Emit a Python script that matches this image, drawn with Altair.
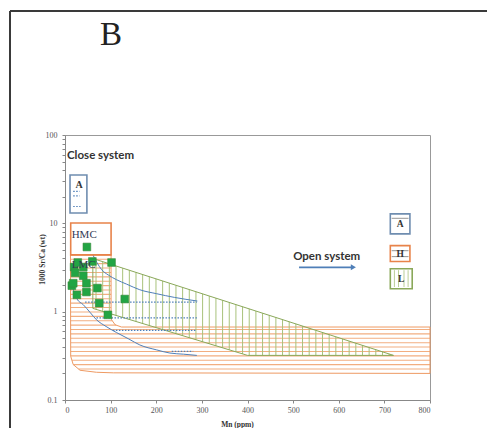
import altair as alt
import numpy as np
import pandas as pd

# ---------------- data ----------------
# samples (green squares): Mn (ppm) vs 1000 Sr/Ca
sample_mn = [48, 60, 102, 20, 40, 28, 22, 40, 15, 18, 47, 71, 26, 47, 75, 131, 94]
sample_sr = [5.4, 3.7, 3.6, 3.2, 3.2, 3.6, 2.75, 2.55, 1.97, 2.1, 2.1, 1.85, 1.55, 1.67, 1.25, 1.39, 0.92]

# blue diagenetic curves
curve1_mn = [61, 70, 80, 95, 113, 135, 164, 200, 240, 290]
curve1_sr = [4.4, 3.6, 3.0, 2.6, 2.3, 2.05, 1.77, 1.6, 1.45, 1.32]
curve2_mn = [15, 20, 26, 40, 55, 69, 90, 113, 140, 164, 200, 230, 260, 289]
curve2_sr = [2.1, 1.65, 1.4, 1.2, 0.98, 0.81, 0.68, 0.58, 0.49, 0.42, 0.37, 0.34, 0.33, 0.32]

# blue dotted levels
dot_sr = [1.28, 0.85, 0.615, 0.355, 23, 20.5, 15.5]
dot_start = [44, 69, 105, 234, 18, 18, 18]
dot_end = [289, 289, 289, 281, 32, 32, 34]

# orange field (LMC)
lmc_mn = [12, 101, 101, 102, 110, 124, 800, 800, 106, 69, 33, 18, 12.5]
lmc_sr = [4.4, 4.4, 0.97, 0.81, 0.71, 0.67, 0.67, 0.2, 0.203, 0.206, 0.217, 0.252, 0.313]

# green field
ara_mn = [61, 720, 400, 61]
ara_sr = [4.0, 0.32, 0.32, 1.09]

# boxes
box_name = ["A", "HMC"]
box_x1 = [11, 12.5]
box_x2 = [48, 101]
box_y1 = [13.1, 4.4]
box_y2 = [35.3, 10.1]

# legend keys
key_label = ["A", "H", "L"]
key_x1 = [713, 713, 713]
key_x2 = [756, 756, 761]
key_y1 = [7.6, 3.7, 1.82]
key_y2 = [12.8, 5.6, 3.06]

ORANGE = "#ee9a63"
ORANGE_H = "#f2ae80"
GREEN = "#8aa85a"
GREEN_H = "#a9c27b"
BLUE = "#4f7fb8"
BOXBLUE = "#6f8db0"

xs = alt.Scale(domain=[0, 800], nice=False, zero=False)
ys = alt.Scale(type="log", domain=[0.1, 100], nice=False)

ytick_vals = [0.1, 0.2, 0.3, 0.4, 0.5, 0.6, 0.7, 0.8, 0.9,
              1, 2, 3, 4, 5, 6, 7, 8, 9,
              10, 20, 30, 40, 50, 60, 70, 80, 90, 100]
is_major = "indexof([0.1, 1, 10, 100], datum.value) >= 0"

xaxis = alt.Axis(values=list(range(0, 801, 100)), title="Mn (ppm)", grid=False,
                 labelFont="Liberation Serif", labelFontSize=8, labelColor="#555",
                 tickColor="#888", domainColor="#888", tickSize=3, labelPadding=3,
                 titleFont="Liberation Serif", titleFontSize=7.5, titleFontWeight="bold",
                 titleColor="#333", titleX=172, titleY=24, titleBaseline="middle")
yaxis = alt.Axis(values=ytick_vals, title="1000 Sr/Ca (wt)", grid=False, format="~g",
                 labelExpr=is_major + " ? datum.label : ''",
                 labelFont="Liberation Serif", labelFontSize=8, labelColor="#555",
                 tickColor="#888", domainColor="#888", tickSize=3, labelPadding=5,
                 titleFont="Liberation Serif", titleFontSize=7.5, titleFontWeight="bold",
                 titleColor="#333", titleX=-23, titleY=124, titleAngle=-90,
                 titleAlign="center", titleBaseline="middle")


def X(f="x"):
    return alt.X(f, type="quantitative", scale=xs, axis=xaxis)


def Y(f="y"):
    return alt.Y(f, type="quantitative", scale=ys, axis=yaxis)


def scan(pa, pb, levels):
    segs = []
    n = len(pa)
    for lv in levels:
        cut = []
        for i in range(n):
            a1, b1 = pa[i], pb[i]
            a2, b2 = pa[(i + 1) % n], pb[(i + 1) % n]
            if (a1 <= lv < a2) or (a2 <= lv < a1):
                t = (lv - a1) / (a2 - a1)
                cut.append(b1 + t * (b2 - b1))
        cut.sort()
        for k in range(0, len(cut) - 1, 2):
            segs.append((lv, cut[k], cut[k + 1]))
    return segs


# orange horizontal hatching
lly = np.log10(lmc_sr)
step = 0.0497
lv = np.arange(np.log10(0.2) + step, np.log10(4.4), step)
oh = scan(list(lly), lmc_mn, lv)
orange_hatch = pd.DataFrame({"y": [10 ** s[0] for s in oh], "x": [s[1] for s in oh],
                             "x2": [s[2] for s in oh]})
orange_hatch["y2"] = orange_hatch["y"]

# green vertical hatching
gly = list(np.log10(ara_sr))
gv = np.arange(61 + 7, 720, 14.6)
gh = scan(ara_mn, gly, gv)
green_hatch = pd.DataFrame({"x": [s[0] for s in gh], "y": [10 ** s[1] for s in gh],
                            "y2": [10 ** s[2] for s in gh]})
green_hatch["x2"] = green_hatch["x"]


def seg_layer(df, color, width=1, dash=None, opacity=1):
    kw = dict(color=color, strokeWidth=width, opacity=opacity)
    if dash:
        kw["strokeDash"] = dash
    return alt.Chart(df).mark_rule(**kw).encode(x=X("x"), x2="x2", y=Y("y"), y2="y2")


def outline(mn, sr, color, width=1):
    df = pd.DataFrame({"x": list(mn) + [mn[0]], "y": list(sr) + [sr[0]],
                       "o": list(range(len(mn) + 1))})
    return alt.Chart(df).mark_line(color=color, strokeWidth=width).encode(
        x=X("x"), y=Y("y"), order="o:Q")


def curve(mn, sr, color, width=1):
    df = pd.DataFrame({"x": mn, "y": sr, "o": list(range(len(mn)))})
    return alt.Chart(df).mark_line(color=color, strokeWidth=width, interpolate="monotone").encode(
        x=X("x"), y=Y("y"), order="o:Q")


layers = []
layers.append(seg_layer(orange_hatch, ORANGE_H, 1.1))
layers.append(outline(lmc_mn, lmc_sr, ORANGE, 1))
layers.append(seg_layer(green_hatch, GREEN_H, 1))
layers.append(outline(ara_mn, ara_sr, GREEN, 1))

# dotted blue lines
dots = pd.DataFrame({"y": dot_sr, "y2": dot_sr, "x": dot_start, "x2": dot_end})
layers.append(seg_layer(dots, BLUE, 1.2, dash=[1.5, 1.5]))

# curves
layers.append(curve(curve1_mn, curve1_sr, BLUE, 1))
layers.append(curve(curve2_mn, curve2_sr, BLUE, 1))

# boxes
boxes = pd.DataFrame({"n": box_name, "x": box_x1, "x2": box_x2, "y": box_y1, "y2": box_y2,
                      "c": [BOXBLUE, "#e8834a"]})
layers.append(alt.Chart(boxes).mark_rect(fillOpacity=0, strokeWidth=1.6).encode(
    x=X("x"), x2="x2", y=Y("y"), y2="y2",
    stroke=alt.Color("c:N", scale=None)))

# samples
pts = pd.DataFrame({"x": sample_mn, "y": sample_sr})
layers.append(alt.Chart(pts).mark_square(size=60, color="#22a544", opacity=1,
                                          stroke="#3c8c3c", strokeWidth=0.6).encode(
    x=X("x"), y=Y("y")))

# labels inside plot
txt = pd.DataFrame({"x": [4.4, 14.6, 14.6], "y": [53.6, 6.86, 3.14],
                    "t": ["Close system", "HMC", "LMC"]})
layers.append(alt.Chart(txt.iloc[[0]]).mark_text(align="left", baseline="alphabetic",
                                                 font="Lato", fontWeight="bold", fontSize=11.5,
                                                 color="#333").encode(
    x=X("x"), y=Y("y"), text="t:N"))
layers.append(alt.Chart(txt.iloc[[1, 2]]).mark_text(align="left", baseline="alphabetic",
                                                    font="Liberation Serif", fontSize=11,
                                                    color="#333a55").encode(
    x=X("x"), y=Y("y"), text="t:N"))
atxt = pd.DataFrame({"x": [31], "y": [27.5], "t": ["A"]})
layers.append(alt.Chart(atxt).mark_text(font="Liberation Serif", fontWeight="bold",
                                        fontSize=10, color="#333").encode(
    x=X("x"), y=Y("y"), text="t:N"))

# open system
otxt = pd.DataFrame({"x": [500], "y": [3.87], "t": ["Open system"]})
layers.append(alt.Chart(otxt).mark_text(align="left", baseline="alphabetic", font="Lato",
                                        fontWeight="bold", fontSize=11.5, color="#333").encode(
    x=X("x"), y=Y("y"), text="t:N"))
arrow = pd.DataFrame({"x": [513], "x2": [630], "y": [3.18], "y2": [3.18]})
layers.append(seg_layer(arrow, BLUE, 1.8))
layers.append(alt.Chart(pd.DataFrame({"x": [632], "y": [3.18]})).mark_point(
    shape="triangle-right", size=35, filled=True, color=BLUE, opacity=1).encode(x=X("x"), y=Y("y")))

# legend keys
keys = pd.DataFrame({"t": key_label, "x": key_x1, "x2": key_x2, "y": key_y1, "y2": key_y2,
                     "c": [BOXBLUE, "#e8834a", GREEN]})
keys["xm"] = [(a + b) / 2 for a, b in zip(key_x1, key_x2)]
keys["ym"] = [np.sqrt(a * b) for a, b in zip(key_y1, key_y2)]
layers.append(alt.Chart(keys).mark_rect(fill="white", strokeWidth=1.6).encode(
    x=X("x"), x2="x2", y=Y("y"), y2="y2", stroke=alt.Color("c:N", scale=None)))
kh = pd.DataFrame({"x": [716, 716, 716], "x2": [753, 753, 753],
                   "y": [11.4, 4.9, 4.2], "y2": [11.4, 4.9, 4.2]})
layers.append(alt.Chart(kh).mark_rule(color="#7a7a7a", strokeWidth=0.8).encode(
    x=X("x"), x2="x2", y=Y("y"), y2="y2"))
kv = pd.DataFrame({"x": [722, 731, 743, 752], "x2": [722, 731, 743, 752],
                   "y": [1.9] * 4, "y2": [2.95] * 4})
layers.append(alt.Chart(kv).mark_rule(color=GREEN_H, strokeWidth=0.8).encode(
    x=X("x"), x2="x2", y=Y("y"), y2="y2"))
layers.append(alt.Chart(keys).mark_text(font="Liberation Serif", fontWeight="bold",
                                        fontSize=9.5, color="#333", baseline="middle").encode(
    x=X("xm"), y=Y("ym"), text="t:N"))

# outer frame and panel letter
one = pd.DataFrame({"a": [0]})
layers.append(alt.Chart(one).mark_rule(color="#3a3a3a", strokeWidth=2).encode(
    x=alt.value(-55), y=alt.value(-124), y2=alt.value(293)))
layers.append(alt.Chart(one).mark_rule(color="#3a3a3a", strokeWidth=2).encode(
    x=alt.value(-55), x2=alt.value(422), y=alt.value(-124)))
layers.append(alt.Chart(pd.DataFrame({"t": ["B"]})).mark_text(
    font="Liberation Serif", fontSize=33, color="#222", baseline="middle").encode(
    x=alt.value(46), y=alt.value(-100), text="t:N"))

chart = alt.layer(*layers).properties(
    width=365, height=265,
    autosize=alt.AutoSizeParams(type="none"),
    padding={"left": 57, "top": 127, "right": 57, "bottom": 28},
).configure_view(stroke="#999", strokeWidth=1)

chart.save("out.html", embed_options={"renderer": "svg", "actions": False})
